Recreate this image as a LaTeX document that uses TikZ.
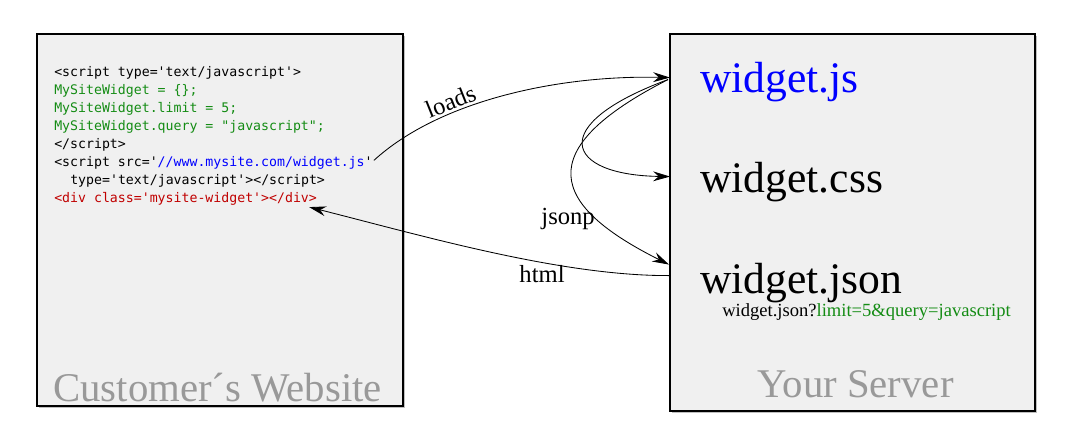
\documentclass[tikz,border=0pt]{standalone}
\usepackage{fontspec}
\setmainfont{Liberation Serif}
\newfontfamily\codefont{DejaVu Sans Mono}
\usetikzlibrary{shadows,arrows.meta}
\definecolor{boxgray}{RGB}{240,240,240}
\definecolor{titlegray}{RGB}{153,153,153}
\definecolor{codegreen}{RGB}{20,140,20}
\definecolor{urlblue}{RGB}{0,0,255}
\definecolor{divred}{RGB}{192,0,0}
\begin{document}
\begin{tikzpicture}[x=0.025cm,y=-0.025cm,>={Stealth[length=12pt,width=7pt,inset=4pt]}]
\tikzset{
  box/.style={draw,line width=0.8pt,fill=boxgray,shape=rectangle,drop shadow={shadow xshift=1.5pt,shadow yshift=-1.5pt,opacity=0.5}},
  code/.style={anchor=base west,inner sep=0pt,font=\codefont\fontsize{9.4}{11}\selectfont},
  file/.style={anchor=base west,inner sep=0pt,font=\fontsize{31}{31}\selectfont},
  title/.style={anchor=base west,inner sep=0pt,text=titlegray,font=\fontsize{29}{29}\selectfont},
  label/.style={font=\fontsize{17.5}{17.5}\selectfont,inner sep=1.5pt},
  link/.style={->,line width=0.6pt}
}
\useasboundingbox (0,0) rectangle (1073,446);
\node[box,minimum width=9.15cm,minimum height=9.3cm] (site) at (220,220) {};
\node[box,minimum width=9.125cm,minimum height=9.425cm] (server) at (852.5,222.5) {};
\node[code] (open) at (54,77) {<script type='text/javascript'>};
\node[code,text=codegreen] (obj) at (54,95) {MySiteWidget = \{\};};
\node[code,text=codegreen] (limit) at (54,113) {MySiteWidget.limit = 5;};
\node[code,text=codegreen] (query) at (54,131) {MySiteWidget.query = "javascript";};
\node[code] (close) at (54,149) {</script>};
\node[code] (src) at (54,167) {<script src='{\color{urlblue}//www.mysite.com/widget.js}'};
\node[code] (type) at (70,185) {type='text/javascript'></script>};
\node[code,text=divred] (div) at (54,203) {<div class='mysite-widget'></div>};
\node[title] (sitetitle) at (53,401) {Customer´s Website};
\node[file,text=urlblue] (js) at (700,93) {widget.js};
\node[file] (css) at (700,193) {widget.css};
\node[file] (json) at (700,293) {widget.json};
\node[anchor=base west,inner sep=0pt,font=\fontsize{13.2}{13.2}\selectfont] (call) at (722,316) {widget.json?{\color{codegreen}limit=5\&query=javascript}};
\node[title] (servertitle) at (757,397) {Your Server};
\draw[link] ([shift={(1,-3)}]src.east) .. controls (440,100) and (560,75) .. node[label,pos=0.33,sloped,above]{loads} ([shift={(-30,-5)}]js.west);
\draw[link] ([shift={(-32,-3)}]js.west) .. controls (545,125) and (565,175) .. ([shift={(-30,-6)}]css.west);
\draw[link] ([shift={(-32,-3)}]js.west) .. controls (530,150) and (550,205) .. node[label,pos=0.74,left]{jsonp} ([shift={(-31,-18)}]json.west);
\draw[link] ([shift={(-31,-7)}]json.west) .. controls (560,276) and (420,235) .. node[label,pos=0.36,below]{html} ([shift={(-8,1)}]div.south east);
\end{tikzpicture}
\end{document}
